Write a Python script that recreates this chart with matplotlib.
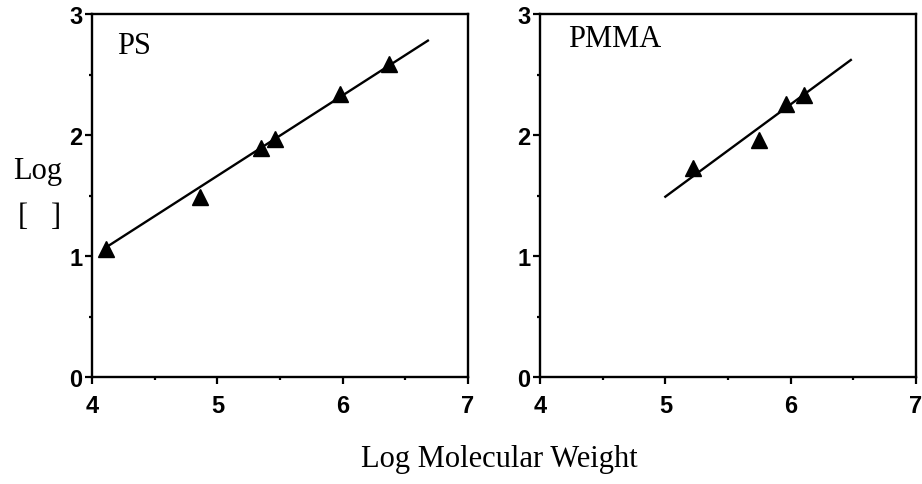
import matplotlib.pyplot as plt
from matplotlib.ticker import MultipleLocator

# PS data (log M, log [eta])
ps_x = [4.11, 4.86, 5.35, 5.46, 5.98, 6.37]
ps_y = [1.06, 1.49, 1.89, 1.97, 2.34, 2.59]
ps_fit_x = [4.11, 6.68]
ps_fit_y = [1.07, 2.78]

# PMMA data
pmma_x = [5.22, 5.75, 5.96, 6.11]
pmma_y = [1.73, 1.96, 2.26, 2.33]
pmma_fit_x = [5.00, 6.48]
pmma_fit_y = [1.49, 2.62]

xticks = [4, 5, 6, 7]
yticks = [0, 1, 2, 3]

W, H = 922, 485
fig = plt.figure(figsize=(W / 100, H / 100), dpi=100)

serif = "Liberation Serif"
tickfont = {"family": "Liberation Sans", "weight": "bold", "size": 17}

def setup(ax, label, px, py):
    ax.set_xlim(4, 7)
    ax.set_ylim(0, 3)
    ax.set_xticks(xticks)
    ax.set_yticks(yticks)
    ax.set_xticklabels([str(t) for t in xticks], fontdict=tickfont)
    ax.set_yticklabels([str(t) for t in yticks], fontdict=tickfont)
    ax.xaxis.set_minor_locator(MultipleLocator(0.5))
    ax.yaxis.set_minor_locator(MultipleLocator(0.5))
    ax.tick_params(which="major", direction="out", length=5, width=1.6)
    ax.tick_params(which="minor", direction="out", length=2.5, width=1.6)
    ax.tick_params(axis="y", which="major", pad=2)
    ax.tick_params(axis="x", which="major", pad=7)
    for s in ax.spines.values():
        s.set_linewidth(1.7)
    ax.text(px, py, label, family=serif, fontsize=22, va="center", ha="left")

ax1 = fig.add_axes([92 / W, 1 - 378 / H, 376 / W, 363 / H])
ax1.plot(ps_fit_x, ps_fit_y, color="black", lw=1.7)
ax1.plot(ps_x, ps_y, "^", color="black", markersize=11, linestyle="none")
setup(ax1, "PS", 4.2, 2.74)

ax2 = fig.add_axes([540 / W, 1 - 378 / H, 376 / W, 363 / H])
ax2.plot(pmma_fit_x, pmma_fit_y, color="black", lw=1.7)
ax2.plot(pmma_x, pmma_y, "^", color="black", markersize=11, linestyle="none")
setup(ax2, "PMMA", 4.22, 2.8)

fig.text(38 / W, 1 - 172 / H, "Log", family=serif, fontsize=22, ha="center", va="center")
fig.text(40 / W, 1 - 218 / H, "[   ]", family=serif, fontsize=22, ha="center", va="center")
fig.text(499 / W, 1 - 460 / H, "Log Molecular Weight", family=serif, fontsize=22,
         ha="center", va="center")

fig.savefig("out.png", dpi=100)
